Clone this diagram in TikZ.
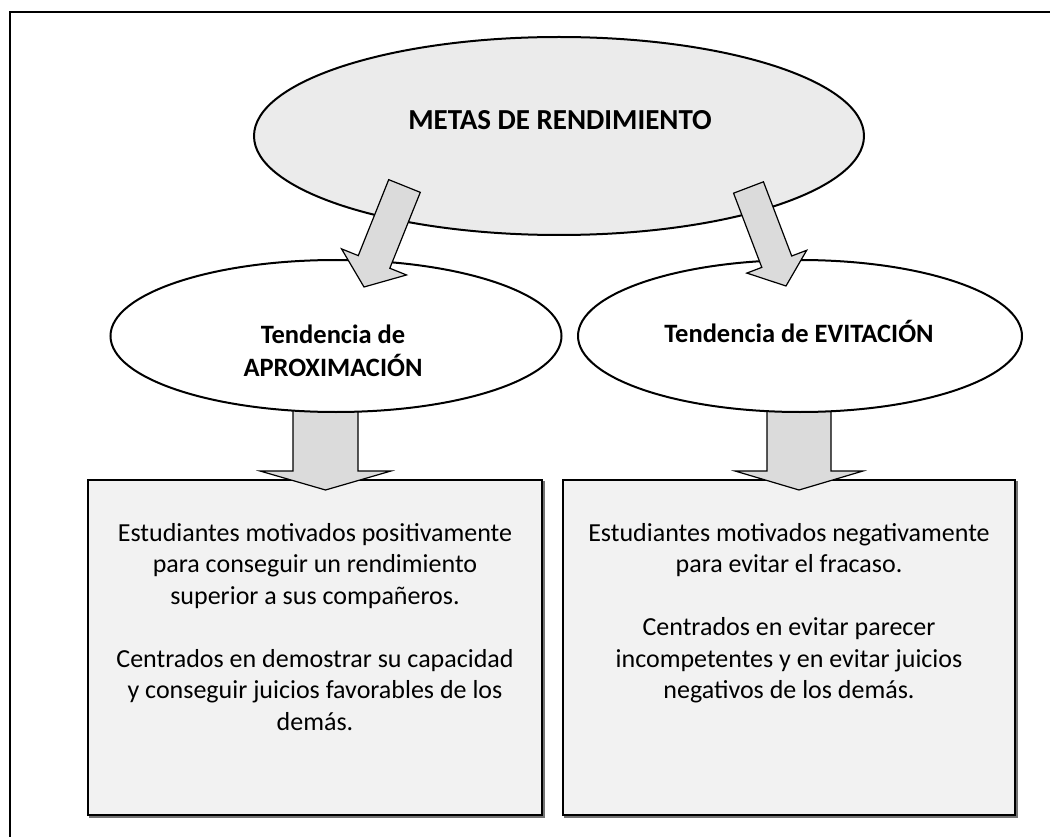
\documentclass[tikz,border=0pt]{standalone}
\usepackage{fontspec}
\setmainfont{Carlito}
\usetikzlibrary{calc,shapes.geometric}
\definecolor{ellgray}{HTML}{EBEBEB}
\definecolor{arrgray}{HTML}{DBDBDB}
\definecolor{boxgray}{HTML}{F2F2F2}
\tikzset{
  oval/.style={ellipse, draw=black, line width=2pt, inner sep=0pt},
  barrow/.style={draw=black, fill=arrgray, line width=1.2pt, line join=miter},
  infobox/.style={draw=black, fill=boxgray, line width=2pt},
  shadowbox/.style={draw=black!55, line width=2pt},
  titletext/.style={font=\bfseries\fontsize{26.5}{33}\selectfont, align=center, inner sep=0pt},
  bigtitle/.style={font=\bfseries\fontsize{29}{34}\selectfont, align=center, inner sep=0pt},
  bodytext/.style={font=\fontsize{26}{31.5}\selectfont, align=center, inner sep=0pt},
}
\newcommand\blockarrow[5]{%
  \coordinate (#1-h) at ($(#2)!#5!(#1)$);
  \draw[barrow] ($(#1)!#3!90:(#2)$) -- ($(#1-h)!#3!-90:(#1)$) -- ($(#1-h)!#4!-90:(#1)$)
    -- (#2) -- ($(#1-h)!#4!90:(#1)$) -- ($(#1-h)!#3!90:(#1)$) -- ($(#1)!#3!-90:(#2)$) -- cycle;
}
\begin{document}
\begin{tikzpicture}[x=1pt,y=-1pt]
\useasboundingbox (0,0) rectangle (1050,837);
% outer frame
\draw[line width=2.5pt] (10,837) -- (10,12) -- (1050,12);
% boxes
\draw[shadowbox] (90,482) rectangle (544,817);
\draw[shadowbox] (565,482) rectangle (1017,817);
\draw[infobox] (88,480) rectangle (542,815);
\draw[infobox] (563,480) rectangle (1015,815);
\node[bodytext, anchor=north] (txtL) at (315,523) {Estudiantes motivados positivamente\\ para conseguir un rendimiento\\ superior a sus compañeros.\\[31.5pt] Centrados en demostrar su capacidad\\ y conseguir juicios favorables de los\\ demás.};
\node[bodytext, anchor=north] (txtR) at (789,523) {Estudiantes motivados negativamente\\ para evitar el fracaso.\\[31.5pt] Centrados en evitar parecer\\ incompetentes y en evitar juicios\\ negativos de los demás.};
% vertical block arrows
\coordinate (vL) at (325.5,400);
\coordinate (vLt) at (325.5,490);
\coordinate (vR) at (799,400);
\coordinate (vRt) at (799,490);
\blockarrow{vL}{vLt}{32.5pt}{65.5pt}{19pt}
\blockarrow{vR}{vRt}{32pt}{64pt}{19pt}
% ellipses
\node[oval, fill=white, minimum width=451pt, minimum height=152pt] (aprox) at (336,336) {};
\node[oval, fill=white, minimum width=444pt, minimum height=152pt] (evit) at (800,336) {};
\node[oval, fill=ellgray, minimum width=610pt, minimum height=198pt] (metas) at (559,136) {};
\node[bigtitle] (metasT) at (560,120) {METAS DE RENDIMIENTO};
\node[titletext] (aproxT) at (333,351) {Tendencia de\\ APROXIMACIÓN};
\node[titletext] (evitT) at (799,331) {Tendencia de EVITACIÓN};
% diagonal block arrows
\coordinate (dL) at (404.5,186);
\coordinate (dLt) at (364,287);
\coordinate (dR) at (748.5,187.5);
\coordinate (dRt) at (786,286);
\blockarrow{dL}{dLt}{17pt}{35pt}{27pt}
\blockarrow{dR}{dRt}{16pt}{32pt}{26pt}
\end{tikzpicture}
\end{document}
